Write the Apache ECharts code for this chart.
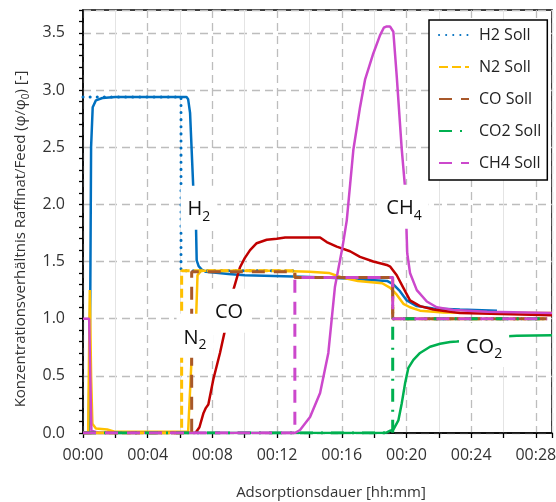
<!DOCTYPE html>
<html lang="de">
<head>
<meta charset="UTF-8">
<title>Konzentrationsverhältnis Raffinat/Feed</title>
<script src="https://cdn.jsdelivr.net/npm/echarts@6/dist/echarts.min.js"></script>
<style>
    html, body { margin: 0; background: #fff; }
    #chart { width: 556px; height: 502px; }
</style>
</head>
<body>
<div id="chart"></div>
<script>
// Zeit in Minuten, Wert = phi/phi0
var h2Ist = [[0, 0], [0.35, 0], [0.45, 1.2], [0.5, 2.5], [0.6, 2.85], [0.8, 2.91], [1.2, 2.93], [2, 2.94], [6.4, 2.94],
    [6.5, 2.92], [6.62, 2.8], [6.82, 2.14], [6.99, 1.79], [7.03, 1.51], [7.15, 1.46], [7.34, 1.43], [7.6, 1.41],
    [9, 1.39], [10, 1.38], [13, 1.37], [15, 1.36], [16.5, 1.35], [17.5, 1.34], [18.8, 1.33], [19.19, 1.3],
    [19.6, 1.24], [20.02, 1.16], [20.64, 1.11], [21.66, 1.09], [23.3, 1.08], [25.6, 1.07]];
var n2Ist = [[0, 0], [0.32, 0], [0.42, 1.25], [0.5, 0.5], [0.58, 0.08], [0.8, 0.04], [1.5, 0.03], [2, 0.01], [6.5, 0.01],
    [6.52, 0.02], [6.72, 0.67], [7.0, 1.03], [7.08, 1.38], [7.3, 1.42], [12, 1.42], [14, 1.41], [15.2, 1.4],
    [16, 1.36], [17, 1.33], [18.5, 1.31], [19.0, 1.27], [19.4, 1.21], [19.81, 1.13], [20.22, 1.1], [20.84, 1.07],
    [22.3, 1.055], [29, 1.05]];
var coIst = [[0, 0], [6.95, 0], [7.2, 0.05], [7.44, 0.17], [7.6, 0.22], [7.75, 0.25], [8.06, 0.47], [8.47, 0.7],
    [8.78, 0.9], [9.19, 1.2], [9.5, 1.35], [9.71, 1.45], [10.0, 1.53], [10.33, 1.6], [10.74, 1.66], [11.36, 1.69],
    [11.98, 1.7], [12.5, 1.71], [14.66, 1.71], [15.07, 1.67], [15.69, 1.63], [16.51, 1.59], [17.13, 1.54],
    [17.95, 1.5], [18.78, 1.47], [19.0, 1.455], [19.4, 1.38], [19.81, 1.27], [20.22, 1.16], [20.84, 1.11],
    [21.66, 1.08], [23.3, 1.05], [29, 1.03]];
var co2Ist = [[0, 0], [18.5, 0], [18.78, 0.005], [19.0, 0.02], [19.19, 0.03], [19.5, 0.11], [19.71, 0.26],
    [19.91, 0.43], [20.12, 0.57], [20.43, 0.64], [20.84, 0.7], [21.46, 0.755], [22.08, 0.78], [22.7, 0.796],
    [23.11, 0.8], [24, 0.81], [25, 0.83], [26, 0.845], [26.82, 0.85], [29, 0.855]];
var ch4Ist = [[0, 1.0], [0.38, 1.0], [0.45, 0.5], [0.52, 0.02], [1, 0], [13.1, 0], [13.42, 0.026], [14.04, 0.14],
    [14.66, 0.35], [15.17, 0.7], [15.58, 1.28], [16.05, 1.63], [16.31, 1.86], [16.72, 2.48], [17.13, 2.85],
    [17.44, 3.09], [17.95, 3.32], [18.37, 3.48], [18.6, 3.545], [18.75, 3.555], [18.99, 3.555], [19.19, 3.51],
    [19.4, 3.12], [19.71, 2.48], [19.91, 2.15], [20.0, 1.79], [20.05, 1.57], [20.22, 1.4], [20.64, 1.25],
    [21.26, 1.15], [21.87, 1.1], [22.9, 1.076], [25, 1.06], [29, 1.05]];

var h2Soll = [[0, 2.94], [6.06, 2.94], [6.06, 1.42], [13.1, 1.42], [13.1, 1.36], [19.15, 1.36], [19.15, 1.0], [28.7, 1.0]];
var n2Soll = [[0, 0], [6.1, 0], [6.1, 1.42], [13.1, 1.42], [13.1, 1.36], [19.15, 1.36], [19.15, 1.0], [28.7, 1.0]];
var coSoll = [[0, 0], [6.72, 0], [6.72, 1.41], [13.1, 1.41], [13.1, 1.36], [19.15, 1.36], [19.15, 1.0], [28.7, 1.0]];
var co2Soll = [[0, 0], [19.15, 0], [19.15, 1.0], [28.7, 1.0]];
var ch4Soll = [[0, 0], [13.1, 0], [13.1, 1.36], [19.15, 1.36], [19.15, 1.0], [28.7, 1.0]];

var sollNames = ['H2 Soll', 'N2 Soll', 'CO Soll', 'CO2 Soll', 'CH4 Soll'];
var labelText = ['H', 'N', 'CO', 'CH', 'CO'];
var labelSub = ['2', '2', '', '4', '2'];
var labelPos = [[7.17, 1.97], [6.93, 0.85], [9.03, 1.07], [19.85, 1.98], [24.8, 0.77]];

var FONT = 'Open Sans';

function ist(name, data, color) {
    return {
        type: 'line', name: name, data: data, symbol: 'none', animation: false,
        lineStyle: {color: color, width: 2.5}, itemStyle: {color: color}
    };
}
function soll(name, data, color, dash, cap) {
    return {
        type: 'line', name: name, data: data, symbol: 'none', animation: false,
        lineStyle: {color: color, width: 3, type: dash, cap: cap || 'butt'}, itemStyle: {color: color}
    };
}

var marks = [];
for (var i = 0; i < labelText.length; i++) {
    var f = '{b|' + labelText[i] + '}' + (labelSub[i] ? '{s|' + labelSub[i] + '}' : '');
    marks.push({coord: labelPos[i], label: {formatter: f}});
}

var chart = echarts.init(document.getElementById('chart'));
chart.setOption({
    animation: false,
    textStyle: {fontFamily: FONT},
    grid: {
        left: 83, top: 10, right: 4, bottom: 69, outerBoundsMode: 'none',
        show: true, borderColor: '#000', borderWidth: 1.5
    },
    legend: {
        data: sollNames, orient: 'vertical', left: 429, top: 20,
        itemWidth: 30, itemHeight: 14, itemGap: 16, padding: [7, 6, 9, 9],
        backgroundColor: '#fff', borderColor: '#000', borderWidth: 1.5,
        itemStyle: {opacity: 0},
        textStyle: {fontFamily: FONT, fontSize: 16, color: '#222', padding: [0, 0, 0, 5]}
    },
    xAxis: [{
        type: 'value', min: 0, max: 29, interval: 4,
        name: 'Adsorptionsdauer [hh:mm]', nameLocation: 'middle', nameGap: 52,
        nameTextStyle: {fontFamily: FONT, fontSize: 15, color: '#333', padding: [0, 0, 0, 27]},
        axisLine: {lineStyle: {color: '#000', width: 1.5}},
        axisTick: {show: false},
        axisLabel: {
            fontFamily: FONT, fontSize: 16, color: '#333', margin: 14, showMaxLabel: false,
            formatter: function (v) { return '00:' + (v < 10 ? '0' : '') + v; }
        },
        splitLine: {lineStyle: {color: '#bdbdbd', width: 1.3, type: [8, 5]}}
    }, {
        type: 'value', min: 0, max: 29, interval: 2, position: 'bottom',
        axisLine: {show: false},
        axisTick: {show: true, length: 5, lineStyle: {color: '#000', width: 1.3}},
        axisLabel: {show: false},
        splitLine: {lineStyle: {color: ['transparent', '#e4e4e4'], width: 1}}
    }],
    yAxis: [{
        type: 'value', min: 0, max: 3.7, interval: 0.5,
        name: '{a|Konzentrationsverhältnis Raffinat/Feed (φ/φ}{s|0}{a|) [-]}',
        nameLocation: 'middle', nameGap: 50,
        nameTextStyle: {
            fontFamily: FONT, color: '#333', padding: [0, 35, 0, 0],
            rich: {
                a: {fontFamily: FONT, fontSize: 15, color: '#333', verticalAlign: 'bottom', padding: [0, 0, 3, 0]},
                s: {fontFamily: FONT, fontSize: 10, color: '#333', verticalAlign: 'bottom'}
            }
        },
        axisLine: {show: true, lineStyle: {color: '#000', width: 1.5}},
        axisTick: {show: false},
        axisLabel: {
            fontFamily: FONT, fontSize: 16, color: '#333', margin: 18, showMaxLabel: false,
            formatter: function (v) { return v.toFixed(1); }
        },
        splitLine: {lineStyle: {color: '#bdbdbd', width: 1.3, type: [8, 5]}}
    }, {
        type: 'value', min: 0, max: 3.7, interval: 0.1, position: 'left',
        axisLine: {show: false},
        axisTick: {show: true, length: 4, lineStyle: {color: '#000', width: 1.3}},
        axisLabel: {show: false},
        splitLine: {show: false}
    }],
    series: [
        ist('H2', h2Ist, '#0070C0'),
        ist('N2', n2Ist, '#FFC000'),
        ist('CO', coIst, '#C00000'),
        ist('CO2', co2Ist, '#00B050'),
        ist('CH4', ch4Ist, '#CC48CC'),
        soll('H2 Soll', h2Soll, '#0070C0', [0.1, 7], 'round'),
        soll('N2 Soll', n2Soll, '#FFC000', [9, 4]),
        soll('CO Soll', coSoll, '#A8582A', [13, 9]),
        soll('CO2 Soll', co2Soll, '#00B050', [13, 8, 2, 8]),
        soll('CH4 Soll', ch4Soll, '#CC48CC', [13, 9]),
        {
            type: 'line', name: 'labels', data: [], symbol: 'none',
            markPoint: {
                symbol: 'rect', symbolSize: 1, itemStyle: {color: 'transparent'}, animation: false,
                label: {
                    show: true, position: 'inside', backgroundColor: '#fff', padding: [14, 7, 6, 7],
                    rich: {
                        b: {fontFamily: FONT, fontSize: 20, color: '#111', verticalAlign: 'bottom', padding: [0, 0, 4, 0]},
                        s: {fontFamily: FONT, fontSize: 14, color: '#111', verticalAlign: 'bottom'}
                    }
                },
                data: marks
            }
        }
    ]
});
</script>
</body>
</html>
